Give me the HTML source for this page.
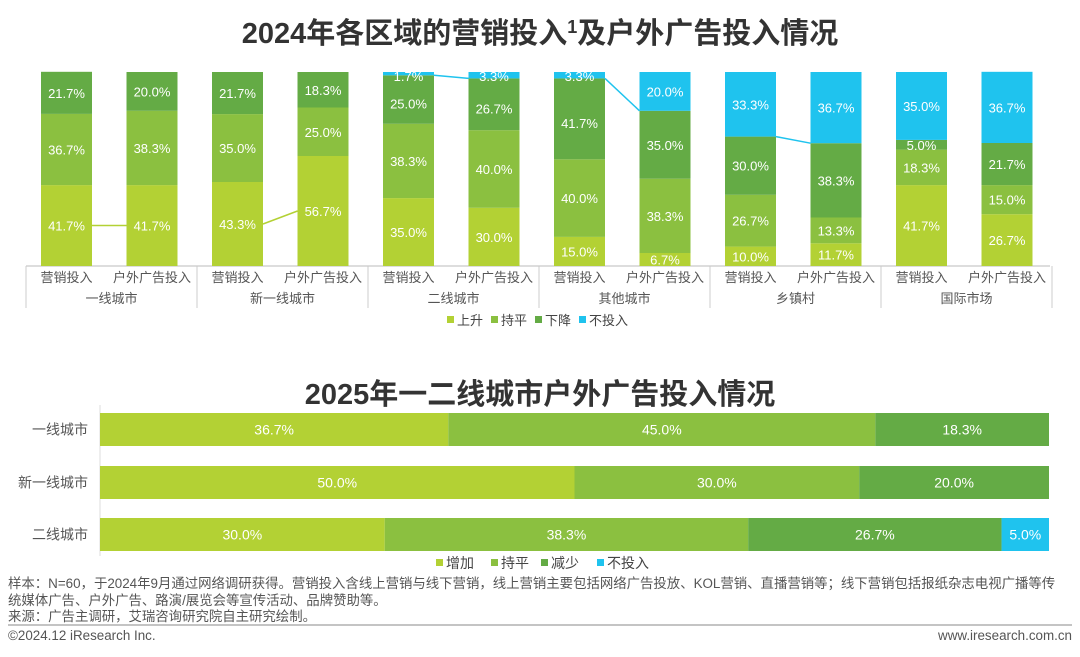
<!DOCTYPE html>
<html><head><meta charset="utf-8">
<style>
body{margin:0;background:#fff;width:1080px;height:652px;overflow:hidden;font-family:"Liberation Sans","Noto Sans CJK SC",sans-serif;}
svg text{font-family:"Liberation Sans","Noto Sans CJK SC",sans-serif;}
</style></head>
<body>
<svg id="c" width="1080" height="652">
<text x="540" y="43" text-anchor="middle" font-size="29" font-weight="bold" fill="#333">2024年各区域的营销投入<tspan font-size="18" dy="-10">1</tspan><tspan dy="10">及户外广告投入情况</tspan></text>
<text x="540" y="404" text-anchor="middle" font-size="29" font-weight="bold" fill="#333">2025年一二线城市户外广告投入情况</text>
<g id="topc"></g><g id="botc"></g>
<g font-size="13.4" fill="#555">
<text x="8" y="588">样本：N=60，于2024年9月通过网络调研获得。营销投入含线上营销与线下营销，线上营销主要包括网络广告投放、KOL营销、直播营销等；线下营销包括报纸杂志电视广播等传</text>
<text x="8" y="605">统媒体广告、户外广告、路演/展览会等宣传活动、品牌赞助等。</text>
<text x="8" y="621">来源：广告主调研，艾瑞咨询研究院自主研究绘制。</text>
<text x="8" y="640">©2024.12 iResearch Inc.</text>
<text x="1072" y="640" text-anchor="end">www.iresearch.com.cn</text>
</g>
<line x1="8" y1="625" x2="1072" y2="625" stroke="#888" stroke-width="1"/>
</svg>
<script>
const groups=["一线城市","新一线城市","二线城市","其他城市","乡镇村","国际市场"];
const barTypes=["营销投入","户外广告投入"];
const seriesTop=["上升","持平","下降","不投入"];
const up=[41.7,41.7,43.3,56.7,35.0,30.0,15.0,6.7,10.0,11.7,41.7,26.7];
const flat=[36.7,38.3,35.0,25.0,38.3,40.0,40.0,38.3,26.7,13.3,18.3,15.0];
const down=[21.7,20.0,21.7,18.3,25.0,26.7,41.7,35.0,30.0,38.3,5.0,21.7];
const none=[0,0,0,0,1.7,3.3,3.3,20.0,33.3,36.7,35.0,36.7];
const rows=["一线城市","新一线城市","二线城市"];
const seriesBot=["增加","持平","减少","不投入"];
const inc=[36.7,50.0,30.0];
const same=[45.0,30.0,38.3];
const dec=[18.3,20.0,26.7];
const nob=[0,0,5.0];
const colors=["#b3d134","#8bc040","#64ab45","#1fc3ee"];
const NS="http://www.w3.org/2000/svg";
function mk(t,a,p){const e=document.createElementNS(NS,t);for(const k in a)e.setAttribute(k,a[k]);p.appendChild(e);return e;}
const gTop=document.getElementById('topc'),gBot=document.getElementById('botc');
const y0=266,H=194;const yS=v=>y0-v/100*H;
const xB=i=>41+i*85.5;const BW=51;
const tops=[up,flat,down,none];
let ax=mk('line',{x1:26,y1:y0,x2:1050,y2:y0,stroke:'#bbb'},gTop);


for(let g=0;g<=6;g++){const x=26+g*171;let l=mk('line',{x1:x,y1:y0,x2:x,y2:308,stroke:'#ccc'},gTop);

}
for(let i=0;i<12;i++){
 let acc=0;
 for(let s=0;s<4;s++){const v=tops[s][i];if(!v){continue;}
  const r=mk('rect',{x:xB(i),y:yS(acc+v),width:BW,height:v/100*H,fill:colors[s]},gTop);
  
  
  const cy=yS(acc+v/2);let ty=cy+5;
  if(s==3&&v<5)ty=yS(acc+v)+9;
  if(s==2&&tops[3][i]>0&&tops[3][i]<5)ty=cy+9;
  const t=mk('text',{x:xB(i)+BW/2,y:ty,'text-anchor':'middle','font-size':13,fill:'#fff'},gTop);t.textContent=v.toFixed(1)+'%';
  
  
  acc+=v;}
 const lb=mk('text',{x:xB(i)+BW/2,y:282,'text-anchor':'middle','font-size':13,fill:'#555'},gTop);lb.textContent=barTypes[i%2];
 
 
}
groups.forEach((g,j)=>{const t=mk('text',{x:26+j*171+85.5,y:303,'text-anchor':'middle','font-size':13,fill:'#555'},gTop);t.textContent=g;
 
 });
[[0,0],[1,0],[2,3],[3,3],[4,3]].forEach(([g,s])=>{const a=2*g,b=2*g+1;let ya,yb;
 if(s==0){ya=yS(up[a]/2);yb=yS(up[b]/2);}else{ya=yS(100-none[a]);yb=yS(100-none[b]);}
 const l=mk('line',{x1:xB(a)+BW,y1:ya,x2:xB(b),y2:yb,stroke:colors[s],'stroke-width':1.5},gTop);
 
 });
function legend(p,names,x,y,w,fs){names.forEach((n,k)=>{const xx=x+w[k];
 const r=mk('rect',{x:xx,y:y-9,width:7,height:7,fill:colors[k]},p);
 
 
 const t=mk('text',{x:xx+10,y:y,'font-size':fs,fill:'#444'},p);t.textContent=n;
 
 });}
legend(gTop,seriesTop,447,325,[0,44,88,132],13);
const bx0=100,bx1=1049,xs=v=>(bx1-bx0)*v/100;
const ry=[413,466,518],RH=33;
let va=mk('line',{x1:bx0,y1:405,x2:bx0,y2:556,stroke:'#ddd'},gBot);


const bs=[inc,same,dec,nob];
rows.forEach((r,i)=>{let acc=0;
 const t=mk('text',{x:88,y:ry[i]+RH/2+5,'text-anchor':'end','font-size':14,fill:'#555'},gBot);t.textContent=r;
 
 
 for(let s=0;s<4;s++){const v=bs[s][i];if(!v)continue;
  const re=mk('rect',{x:bx0+xs(acc),y:ry[i],width:xs(v),height:RH,fill:colors[s]},gBot);
  
  
  const tx=mk('text',{x:bx0+xs(acc+v/2),y:ry[i]+RH/2+5,'text-anchor':'middle','font-size':14,fill:'#fff'},gBot);tx.textContent=v.toFixed(1)+'%';
  
  
  acc+=v;}});
legend(gBot,seriesBot,436,568,[0,55,105,161],14);
</script>
</body></html>
